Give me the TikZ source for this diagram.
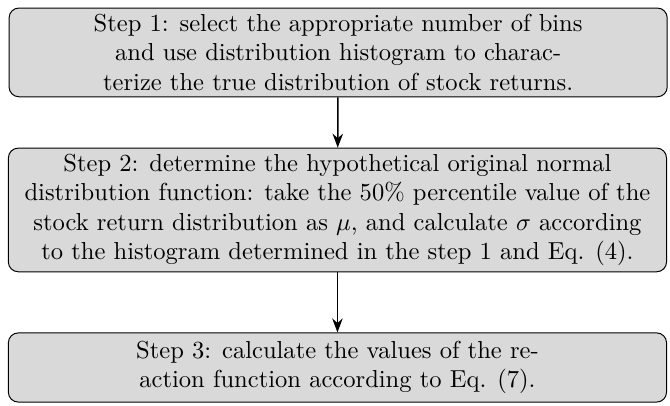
\documentclass[tikz,border=0pt]{standalone}
\usepackage{amsmath,amssymb}
\usetikzlibrary{arrows.meta}

\begin{document}
\begin{tikzpicture}[
    stepbox/.style={draw, rounded corners=4pt, fill=gray!30, align=center,
        inner sep=2pt, minimum width=9.42cm},
    flow/.style={->, >=Stealth, semithick}]

\useasboundingbox (0,0) rectangle (9.59,-5.80);

% --- the three steps ---
\node[stepbox, minimum height=1.27cm] (S1) at (4.84,-0.75)
    {Step 1: select the appropriate number of bins\\
     and use distribution histogram to charac-\\
     terize the true distribution of stock returns.};

\node[stepbox, minimum height=1.77cm] (S2) at (4.83,-3.005)
    {Step 2: determine the hypothetical original normal\\
     distribution function: take the 50\% percentile value of the\\
     stock return distribution as $\mu$, and calculate $\sigma$ according\\
     to the histogram determined in the step 1 and Eq. (4).};

\node[stepbox, minimum height=0.99cm] (S3) at (4.83,-5.26)
    {Step 3: calculate the values of the re-\\
     action function according to Eq. (7).};

% --- arrows ---
\draw[flow] (S1) -- (S2);
\draw[flow] (S2) -- (S3);

\end{tikzpicture}
\end{document}
